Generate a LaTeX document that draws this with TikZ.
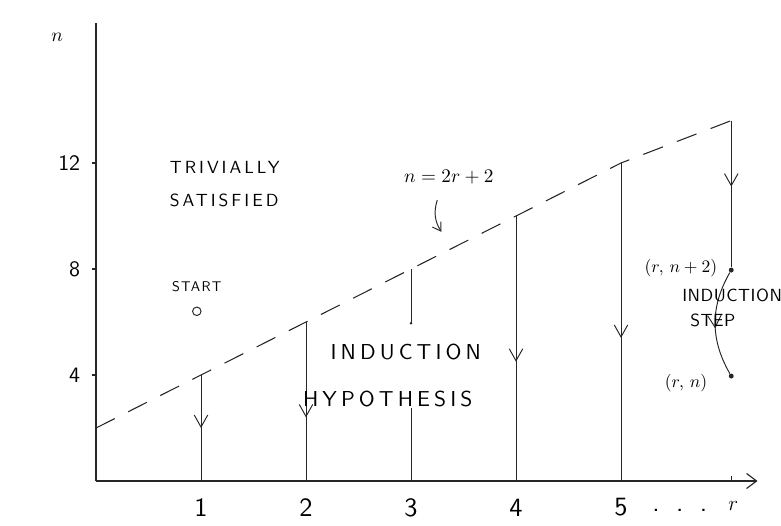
\documentclass[tikz,border=0pt]{standalone}
\usepackage{fontspec}
\usepackage{tikz}
\usetikzlibrary{positioning}
\usetikzlibrary{arrows.meta}
\usetikzlibrary{decorations.markings}

\newfontfamily\handfont{lmsans10-regular.otf}
\newcommand{\hand}[2]{\handfont\fontsize{#1}{1.2\dimexpr#1pt\relax}\selectfont\addfontfeatures{LetterSpace=#2}}

\begin{document}
\begin{tikzpicture}[
    x=2.1cm, y=0.53cm,
    every node/.style={inner sep=0pt},
    axis/.style={draw=black!85, line width=0.65pt},
    guide/.style={draw=black!85, line width=0.55pt},
    boundary/.style={draw=black!85, line width=0.6pt, dash pattern=on 0.42cm off 0.3cm},
    downarrow/.style={postaction={decorate}, decoration={markings, mark=at position #1 with {\arrow{Straight Barb[length=2.4mm, width=2.7mm]}}}},
    dot/.style={circle, fill=black!85, minimum size=2.8pt},
    numlabel/.style={font=\hand{15}{0}},
    ynumlabel/.style={font=\hand{12.5}{0}},
    region/.style={font=\hand{10}{17}, align=left},
    bigregion/.style={font=\hand{12.3}{19}},
    smallregion/.style={font=\hand{8}{9}},
    steplabel/.style={font=\hand{10}{3}, align=left},
    formula/.style={font=\fontsize{11}{13}\selectfont},
    pointlabel/.style={font=\fontsize{10}{12}\selectfont}
]
\useasboundingbox (-1.92cm,-0.88cm) rectangle (13.7cm,9.62cm);

% axes
\coordinate (origin) at (0,0);
\coordinate (ytop) at (0,17.3);
\coordinate (xend) at (6.3,0);
\draw[axis] (origin) -- (ytop);
\draw[axis, -{Straight Barb[length=2mm, width=3mm]}] (origin) -- (xend);
\node[formula] (nlabel) at (-0.37,16.75) {$n$};

\foreach \v in {4,8,12} {
  \coordinate (ytick\v) at (0,\v);
  \draw[axis] (ytick\v) -- ++(-0.04,0) node[left=0.22cm, ynumlabel] (ylab\v) {\v};
}

% columns below the line n=2r+2
\coordinate (start2) at (0,2);
\foreach \k/\p in {1/0.5, 2/0.6, 4/0.55, 5/0.55} {
  \coordinate (top\k) at (\k,{2*\k+2});
  \coordinate (foot\k) at (\k,0);
  \draw[guide, downarrow=\p] (top\k) -- (foot\k);
}
\coordinate (top3) at (3,8);
\coordinate (cut3) at (3,5.95);
\coordinate (rest3) at (3,2.75);
\coordinate (foot3) at (3,0);
\draw[guide] (top3) -- (cut3);
\fill[black!85] (cut3) circle (0.8pt);
\draw[guide] (rest3) -- (foot3);

\foreach \k in {1,...,5}
  \node[numlabel] (xlab\k) at (\k,-1.0) {\k};
\node[numlabel] (dots) at (5.56,-1.1) {.\hspace{0.33cm}.\hspace{0.33cm}.};
\node[formula, font=\fontsize{13}{15}\selectfont] (rlabel) at (6.07,-0.95) {$r$};

% column r and the step
\coordinate (rtop) at (6.05,13.6);
\coordinate (rfoot) at (6.05,0);
\draw[axis] (rfoot) -- ++(0,0.2);
\node[dot] (rn2) at (6.05,7.96) {};
\node[dot] (rn) at (6.05,3.96) {};
\draw[guide, downarrow=0.45] (rtop) -- (rn2);
\draw[guide, downarrow=0.55] (rn2) to[bend right=30] (rn);
\node[pointlabel] (rn2label) at (5.57,8.04) {$(r,\, n+2)$};
\node[pointlabel] (rnlabel) at (5.62,3.7) {$(r,\, n)$};
\node[steplabel, anchor=west] (steptext) at (5.58,6.53) {INDUCTION\\[2pt]\hspace{0.16cm}STEP};

% the line n=2r+2
\draw[boundary] (start2) -- (top5) -- (rtop);
\node[pointlabel, font=\fontsize{10.5}{12}\selectfont] (linelabel) at (3.36,11.47) {$n = 2r + 2$};
\coordinate (hooktop) at (3.25,10.6);
\coordinate (hookend) at (3.29,9.4);
\draw[guide, -{Straight Barb[length=1.6mm, width=2mm]}] (hooktop) to[bend right=25] (hookend);

% regions
\node[region, anchor=west] (trivial) at (0.70,11.2) {TRIVIALLY\\[7pt]SATISFIED};
\node[smallregion] (start) at (0.96,7.32) {START};
\node[circle, draw=black!85, line width=0.55pt, minimum size=0.17cm, below=0.28cm of start] (startpt) {};
\node[bigregion] (induction) at (2.95,4.87) {INDUCTION};
\node[bigregion, below=0.6cm of induction, xshift=-0.36cm] (hypothesis) {HYPOTHESIS};
\end{tikzpicture}
\end{document}
